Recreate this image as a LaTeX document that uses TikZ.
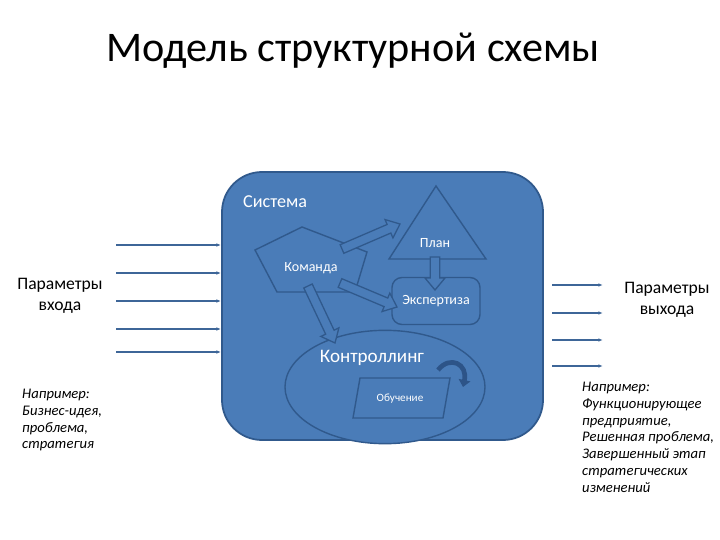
\documentclass[tikz,border=0pt]{standalone}
\usepackage{fontspec}
\setmainfont{Carlito}
\usetikzlibrary{shapes.geometric,arrows.meta,calc}

\definecolor{boxblue}{HTML}{4A7CB8}
\definecolor{edgeblue}{HTML}{30598C}
\definecolor{linkblue}{HTML}{3E6698}
\definecolor{curlblue}{HTML}{2D5488}

% block arrow from #1 to #2
\newcommand\blockarrow[2]{%
  \coordinate (ba head) at ($(#2)!0.36cm!(#1)$);
  \draw[barrow] ($(#1)!0.14cm!90:(#2)$) -- ($(ba head)!0.14cm!-90:(#1)$)
    -- ($(ba head)!0.3cm!-90:(#1)$) -- (#2) -- ($(ba head)!0.3cm!90:(#1)$)
    -- ($(ba head)!0.14cm!90:(#1)$) -- ($(#1)!0.14cm!-90:(#2)$) -- cycle;}

\begin{document}
\begin{tikzpicture}[x=0.03cm,y=-0.03cm]
      \tikzstyle{sysbox}=[draw=edgeblue,fill=boxblue,line width=1.5pt,rounded corners=1.2cm,minimum width=9.63cm,minimum height=8.04cm]
      \tikzstyle{part}=[draw=edgeblue,fill=boxblue,line width=1.2pt]
      \tikzstyle{barrow}=[draw=edgeblue,fill=boxblue,line width=1.1pt,line join=miter]
      \tikzstyle{lbl}=[text=white,font=\fontsize{12}{14}\selectfont]
      \tikzstyle{io}=[draw=linkblue,line width=1.2pt,-{Latex[length=4pt,width=3pt]}]
      \tikzstyle{par}=[align=center,font=\fontsize{15}{18}\selectfont]
      \tikzstyle{note}=[align=left,inner sep=0pt,font=\itshape\fontsize{12.5}{14.3}\selectfont]
      \useasboundingbox (0,0) rectangle (720,540);
      \node[anchor=base,font=\fontsize{36}{40}\selectfont] (title) at (353,62) {Модель структурной схемы};
      % system
      \node[sysbox] (sys) at (382.5,306) {};
      \node[lbl,anchor=west,font=\fontsize{15.5}{18}\selectfont] (sysname) at (239,202) {Система};
      \draw[part] (436,186) -- (486,259) -- (389,259) -- cycle;
      \node[lbl] (plan) at (435,243) {План};
      \draw[part] (255,250) -- (302,227) -- (367,252) -- (355,292) -- (277,292) -- cycle;
      \node[lbl] (team) at (311,268) {Команда};
      \node[part,rounded corners=0.3cm,minimum width=2.64cm,minimum height=1.41cm,lbl] (exp) at (436,301) {Экспертиза};
      \node[part,ellipse,minimum width=6cm,minimum height=3.4cm] (ctrl) at (385,387) {};
      \node[lbl,font=\fontsize{16.3}{19}\selectfont] (ctrlname) at (372,358) {Контроллинг};
      \draw[part] (360,378) -- (450,378) -- (443,418) -- (353,418) -- cycle;
      \node[lbl,font=\fontsize{9.5}{11}\selectfont] (learn) at (400,399) {Обучение};
      \draw[curlblue,line width=4pt,-{Triangle[length=6pt,width=10pt]}] (438,370) .. controls (450,355) and (468,364) .. (463,387);
      % links
      \coordinate (kp a) at (342,249);  \coordinate (kp b) at (400,224);
      \coordinate (ke a) at (340,283);  \coordinate (ke b) at (397,307);
      \coordinate (kc a) at (308,286);  \coordinate (kc b) at (335,343);
      \coordinate (pe a) at (435,257);  \coordinate (pe b) at (435,290);
      \blockarrow{kp a}{kp b}
      \blockarrow{ke a}{ke b}
      \blockarrow{kc a}{kc b}
      \blockarrow{pe a}{pe b}
      % inputs and outputs
      \foreach \y [count=\i] in {245,273,301,329,352} {
        \coordinate (in\i) at (116,\y);
        \draw[io] (in\i) -- (in\i -| sys.west);
      }
      \foreach \y [count=\i] in {285,313,340,366} {
        \coordinate (out\i) at (552,\y);
        \draw[io] (out\i) -- ++(51,0);
      }
      \node[par] (inpar) at (60,296) {Параметры\\входа};
      \node[par] (outpar) at (667,300) {Параметры\\выхода};
      \node[note,anchor=north west] (innote) at (22,389) {Например:\\Бизнес-идея,\\проблема,\\стратегия};
      \node[note,anchor=north west] (outnote) at (582,382) {Например:\\Функционирующее\\предприятие,\\Решенная проблема,\\Завершенный этап\\стратегических\\изменений};
    \end{tikzpicture}
\end{document}
